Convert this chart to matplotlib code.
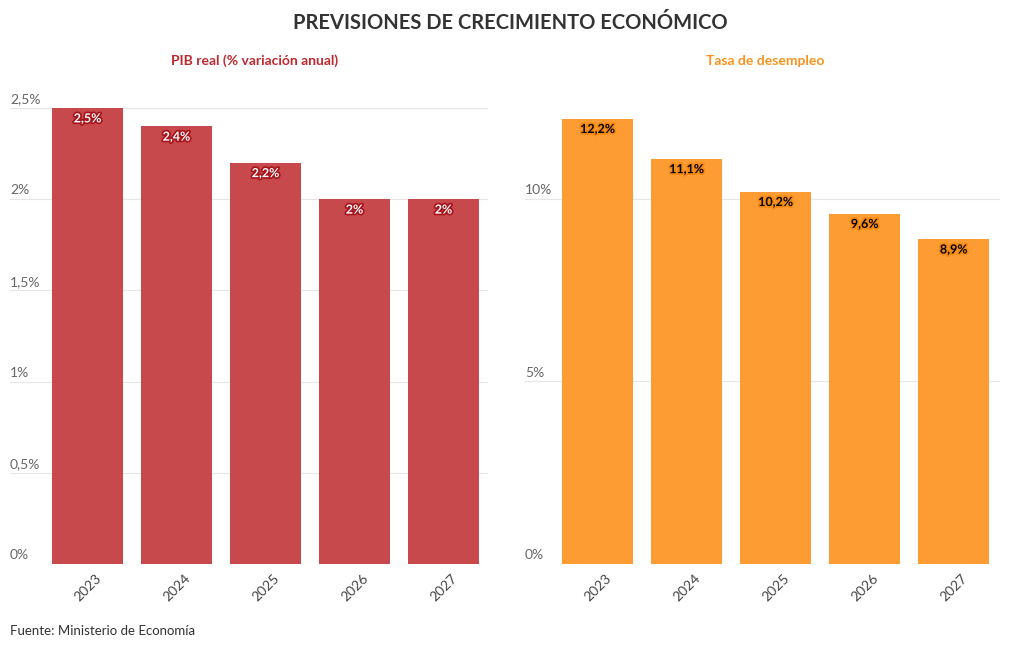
import matplotlib
matplotlib.use("Agg")
import matplotlib.pyplot as plt
import matplotlib.patheffects as pe

plt.rcParams['font.family'] = ['Lato', 'DejaVu Sans']

years = ["2023", "2024", "2025", "2026", "2027"]
pib = [2.5, 2.4, 2.2, 2.0, 2.0]
paro = [12.2, 11.1, 10.2, 9.6, 8.9]
pib_ticks = [0, 0.5, 1, 1.5, 2, 2.5]
paro_ticks = [0, 5, 10]

def fmt(v):
    s = ("%.1f" % v).rstrip("0").rstrip(".")
    return s.replace(".", ",") + "%"

fig = plt.figure(figsize=(10.2, 6.5), dpi=100)
fig.patch.set_facecolor("white")

bottom = 1 - 564 / 650
height = (564 - 108) / 650
ax1 = fig.add_axes([10 / 1020, bottom, 478 / 1020, height])
ax2 = fig.add_axes([525 / 1020, bottom, 475 / 1020, height])

def draw(ax, vals, ticks, ylim, xlim, color, txtcolor, stroke):
    x = list(range(len(vals)))
    ax.bar(x, vals, width=0.8, color=color, zorder=2)
    ax.set_ylim(*ylim)
    ax.set_xlim(*xlim)
    for s in ax.spines.values():
        s.set_visible(False)
    ax.set_yticks(ticks)
    ax.set_yticklabels([])
    ax.tick_params(axis='y', length=0)
    for t in ticks:
        ax.axhline(t, color="#e6e6e6", lw=0.8, zorder=1)
        ax.text(0, t + (ylim[1] * 0.006), fmt(t), transform=ax.get_yaxis_transform(),
                ha="left", va="bottom", fontsize=10, color="#666666")
    ax.set_xticks(x)
    ax.set_xticklabels(years, rotation=45, ha="center", fontsize=10, color="#444444")
    ax.tick_params(axis='x', length=0, pad=6)
    for xi, v in zip(x, vals):
        ax.annotate(fmt(v), (xi, v), xytext=(0, -7.5), textcoords="offset points",
                    ha="center", va="center", fontsize=9, fontweight="bold",
                    color=txtcolor, zorder=3,
                    path_effects=[pe.withStroke(linewidth=2.5, foreground=stroke)])

draw(ax1, pib, pib_ticks, (0, 2.5), (-0.871, 4.5), "#c8494b", "white", "#a8141c")
draw(ax2, paro, paro_ticks, (0, 12.49), (-0.815, 4.52), "#fd9c32", "black", "#f68a12")

fig.text(0.5, 1 - 23 / 650, "PREVISIONES DE CRECIMIENTO ECONÓMICO", ha="center", va="center",
         fontsize=14.5, fontweight="bold", color="#333333")
fig.text(255 / 1020, 1 - 61 / 650, "PIB real (% variación anual)", ha="center", va="center",
         fontsize=10, fontweight="bold", color="#c0282d")
fig.text(765 / 1020, 1 - 61 / 650, "Tasa de desempleo", ha="center", va="center",
         fontsize=10, fontweight="bold", color="#f7931e")
fig.text(10 / 1020, 1 - 631 / 650, "Fuente: Ministerio de Economía", ha="left", va="center",
         fontsize=9.5, color="#333333")

fig.savefig("out.png", dpi=100, facecolor="white")
